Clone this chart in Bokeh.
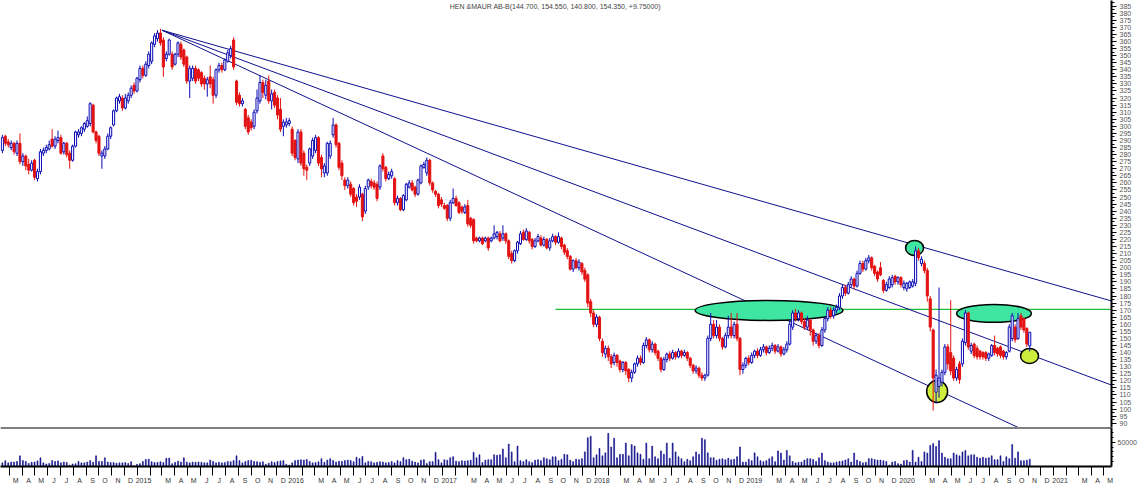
import datetime as dt
from bokeh.plotting import figure
from bokeh.models import Range1d, FixedTicker, Span, Label, ColumnDataSource
from bokeh.layouts import column
from bokeh.embed import file_html
from bokeh.resources import INLINE

# ---------------- data (weekly candles) ----------------
TITLE = "HEN &MAUR AB-B(144.700, 154.550, 140.800, 154.350, +9.75000)"
FIRST_WEEK = "2014-02-10"

OPEN = [
    283, 293, 289, 285, 288, 281, 288, 275, 279, 273, 269, 276, 263, 268, 281, 283, 284, 291, 286, 290,
    292, 282, 288, 281, 276, 286, 294, 295, 298, 300, 302, 315, 296, 293, 279, 279, 284, 293, 301, 311,
    318, 320, 313, 318, 322, 329, 325, 333, 341, 336, 343, 346, 358, 362, 366, 361, 348, 351, 351, 344,
    351, 358, 354, 349, 332, 334, 341, 340, 338, 334, 330, 335, 333, 322, 340, 343, 340, 346, 350, 361,
    332, 322, 316, 312, 306, 303, 300, 311, 318, 331, 322, 332, 318, 324, 320, 312, 300, 301, 302, 298,
    290, 277, 296, 281, 271, 274, 279, 283, 292, 278, 267, 267, 279, 294, 301, 288, 274, 262, 258, 259,
    256, 250, 250, 252, 240, 257, 261, 260, 259, 257, 279, 271, 263, 265, 263, 246, 249, 241, 248, 257,
    260, 257, 252, 260, 271, 267, 276, 260, 254, 252, 248, 244, 244, 235, 246, 249, 246, 243, 239, 244,
    235, 234, 221, 219, 221, 219, 221, 219, 221, 222, 224, 221, 224, 219, 210, 205, 212, 217, 225, 220,
    225, 220, 215, 219, 221, 216, 220, 214, 219, 222, 218, 221, 216, 212, 208, 199, 205, 200, 203, 198,
    195, 176, 168, 160, 165, 148, 139, 143, 137, 133, 138, 134, 128, 133, 128, 122, 126, 132, 136, 133,
    145, 149, 142, 146, 141, 136, 128, 135, 139, 136, 140, 137, 141, 138, 140, 136, 131, 127, 129, 124,
    122, 124, 150, 160, 152, 158, 150, 144, 152, 158, 152, 160, 150, 128, 131, 136, 133, 138, 141, 138,
    142, 144, 140, 143, 145, 141, 144, 139, 142, 146, 158, 168, 164, 168, 162, 158, 163, 156, 148, 152,
    145, 156, 164, 170, 166, 170, 172, 180, 186, 182, 188, 192, 187, 196, 203, 199, 205, 207, 201, 197,
    200, 191, 184, 186, 188, 194, 190, 193, 186, 185, 186, 187, 189, 212, 203, 203, 198, 178, 156, 112,
    116, 119, 126, 144, 140, 136, 122, 132, 132, 147, 168, 141, 146, 143, 141, 140, 140, 136, 138, 145,
    143, 144, 141, 137, 141, 150, 158, 150, 166, 164, 157, 144.7,
]
HIGH = [
    294, 294, 291, 290, 289, 290, 295, 281, 280, 277, 276, 277, 270, 284, 285, 287, 290, 298, 293, 297,
    294, 289, 289, 283, 287, 297, 298, 300, 303, 307, 317, 316, 297, 294, 283, 286, 295, 300, 312, 321,
    323, 322, 323, 324, 329, 331, 335, 343, 343, 346, 353, 360, 366, 368, 369, 363, 353, 362, 353, 352,
    360, 360, 355, 350, 343, 343, 343, 341, 339, 336, 335, 343, 335, 341, 345, 345, 348, 354, 357, 363,
    333, 324, 320, 313, 308, 305, 312, 326, 336, 333, 333, 336, 326, 326, 322, 320, 305, 306, 306, 300,
    291, 298, 298, 283, 273, 285, 292, 294, 293, 280, 274, 289, 290, 306, 302, 289, 276, 264, 264, 261,
    257, 252, 259, 253, 258, 263, 263, 262, 261, 273, 281, 272, 268, 270, 264, 251, 250, 252, 260, 262,
    262, 258, 263, 273, 275, 278, 277, 261, 255, 253, 250, 246, 245, 248, 256, 251, 247, 244, 245, 248,
    236, 235, 222, 222, 222, 222, 222, 222, 230, 226, 226, 230, 225, 220, 212, 213, 219, 226, 227, 228,
    226, 221, 221, 224, 223, 222, 221, 221, 224, 223, 225, 222, 217, 214, 209, 206, 207, 206, 204, 200,
    196, 178, 170, 167, 166, 150, 145, 145, 139, 140, 139, 135, 134, 134, 129, 128, 133, 138, 138, 147,
    151, 150, 148, 147, 142, 137, 137, 140, 141, 142, 141, 143, 142, 142, 141, 137, 132, 131, 130, 126,
    125, 152, 168, 163, 163, 160, 151, 154, 166, 168, 162, 168, 151, 133, 137, 138, 140, 142, 143, 144,
    146, 145, 145, 147, 146, 146, 145, 144, 148, 162, 170, 171, 170, 169, 164, 166, 164, 157, 154, 154,
    158, 165, 172, 172, 172, 174, 182, 188, 188, 190, 194, 193, 198, 205, 205, 207, 209, 208, 202, 198,
    204, 192, 190, 194, 195, 195, 194, 194, 191, 190, 191, 192, 215, 214, 208, 205, 200, 180, 157, 128,
    186, 128, 146, 146, 177, 138, 130, 134, 150, 170, 169, 147, 147, 145, 142, 141, 141, 140, 146, 152,
    144, 145, 142, 141, 160, 168, 160, 168, 168, 165, 158, 154.55,
]
LOW = [
    281, 286, 285, 283, 280, 279, 273, 272, 269, 266, 268, 262, 261, 266, 279, 281, 283, 285, 284, 288,
    280, 280, 278, 270, 275, 285, 292, 293, 296, 299, 300, 295, 288, 279, 270, 277, 283, 291, 300, 310,
    316, 311, 312, 316, 320, 323, 324, 331, 334, 335, 341, 344, 356, 360, 357, 335, 346, 350, 340, 343,
    349, 347, 342, 330, 320, 332, 330, 332, 328, 326, 321, 327, 316, 320, 338, 338, 339, 345, 348, 340,
    315, 314, 314, 298, 294, 297, 298, 309, 316, 320, 319, 316, 312, 313, 305, 296, 293, 299, 300, 279,
    276, 274, 272, 265, 262, 272, 277, 281, 272, 264, 264, 265, 277, 292, 285, 269, 262, 255, 256, 250,
    244, 243, 248, 233, 238, 255, 256, 255, 247, 255, 268, 261, 262, 263, 244, 244, 240, 240, 247, 256,
    254, 250, 251, 259, 270, 265, 258, 253, 250, 242, 243, 241, 233, 233, 245, 243, 238, 238, 238, 229,
    228, 217, 218, 218, 216, 218, 212, 218, 220, 220, 218, 219, 217, 206, 203, 204, 210, 216, 219, 219,
    217, 213, 214, 218, 215, 215, 213, 212, 218, 216, 217, 213, 209, 206, 198, 197, 199, 198, 195, 190,
    172, 165, 158, 158, 148, 137, 136, 134, 129, 131, 130, 126, 126, 124, 119, 119, 125, 130, 131, 132,
    143, 140, 140, 138, 134, 126, 127, 133, 134, 135, 135, 136, 136, 137, 134, 129, 125, 125, 122, 120,
    120, 123, 148, 150, 150, 148, 142, 143, 150, 150, 150, 148, 124, 125, 129, 131, 132, 136, 136, 137,
    140, 138, 139, 141, 139, 140, 137, 138, 140, 145, 156, 162, 162, 160, 156, 156, 152, 145, 146, 143,
    144, 154, 162, 164, 164, 168, 170, 178, 180, 181, 186, 185, 186, 195, 197, 198, 203, 198, 194, 190,
    194, 182, 183, 185, 186, 188, 188, 186, 184, 183, 185, 186, 187, 205, 201, 196, 176, 155, 99, 104,
    108, 116, 124, 128, 124, 120, 120, 118, 130, 145, 142, 139, 136, 135, 135, 135, 134, 134, 137, 138,
    137, 136, 135, 135, 140, 148, 147, 149, 156, 154, 144, 140.8,
]
CLOSE = [
    292, 288, 287, 288, 282, 288, 275, 279, 272, 269, 274, 264, 268, 282, 283, 285, 287, 286, 291, 292,
    281, 288, 280, 276, 286, 296, 296, 299, 302, 304, 316, 296, 290, 281, 281, 284, 293, 299, 311, 320,
    321, 313, 320, 322, 327, 325, 334, 341, 336, 344, 351, 359, 364, 366, 359, 342, 351, 361, 342, 351,
    359, 349, 344, 332, 341, 341, 332, 334, 330, 330, 333, 330, 322, 340, 343, 340, 347, 352, 355, 342,
    317, 316, 318, 300, 296, 299, 310, 320, 331, 324, 329, 318, 323, 315, 308, 298, 303, 303, 304, 281,
    278, 296, 274, 270, 269, 284, 290, 292, 274, 270, 272, 288, 288, 301, 287, 271, 265, 258, 262, 252,
    246, 247, 257, 236, 256, 262, 258, 257, 249, 272, 270, 263, 266, 268, 246, 249, 241, 251, 259, 260,
    255, 252, 262, 272, 273, 276, 260, 255, 252, 244, 245, 242, 235, 246, 249, 244, 239, 240, 243, 231,
    230, 219, 219, 221, 217, 221, 214, 221, 224, 225, 219, 224, 219, 208, 205, 212, 218, 224, 220, 226,
    219, 215, 219, 222, 216, 220, 214, 219, 222, 218, 222, 215, 211, 208, 199, 205, 200, 204, 197, 192,
    175, 168, 160, 165, 150, 140, 143, 137, 132, 138, 133, 128, 133, 127, 122, 126, 132, 136, 133, 145,
    149, 142, 146, 140, 136, 128, 135, 139, 136, 140, 137, 141, 138, 140, 136, 131, 127, 129, 124, 122,
    124, 150, 160, 152, 158, 150, 144, 152, 158, 152, 160, 150, 128, 131, 136, 133, 138, 141, 138, 142,
    144, 140, 143, 145, 141, 144, 139, 142, 146, 160, 168, 164, 168, 162, 158, 163, 156, 148, 152, 145,
    156, 164, 170, 166, 170, 172, 180, 186, 182, 188, 192, 187, 196, 203, 199, 205, 207, 200, 196, 192,
    195, 184, 188, 192, 193, 190, 193, 188, 189, 189, 190, 190, 212, 207, 206, 198, 180, 158, 122, 124,
    122, 126, 144, 132, 127, 122, 128, 121, 148, 168, 144, 145, 138, 137, 137, 137, 136, 139, 145, 140,
    139, 138, 137, 140, 158, 166, 149, 164, 158, 156, 146, 154.35,
]
VOLUME = [
    7500, 12000, 7500, 9200, 9200, 10400, 21900, 12100, 10400, 6300, 8600, 9200, 11500, 17800, 7500, 5200, 6300, 12100, 10400, 11500,
    7500, 9200, 8100, 2900, 5200, 5800, 10400, 7500, 7500, 9200, 12100, 8600, 21900, 10400, 10400, 17800, 9200, 8100, 8100, 6900,
    7500, 7500, 8100, 6300, 9800, 1700, 4600, 5800, 10400, 14400, 15000, 9800, 8100, 8600, 9800, 8100, 16700, 17300, 5800, 8600,
    10900, 9200, 17800, 9200, 7500, 9200, 8600, 9200, 8600, 7500, 7500, 13200, 10400, 7500, 8600, 7500, 8100, 10400, 9800, 12100,
    21900, 12100, 7500, 10400, 12100, 12700, 10400, 9800, 8600, 9800, 4600, 6900, 9800, 8100, 10400, 11500, 12100, 4600, 3000, 7500,
    12100, 13200, 13800, 13200, 14400, 10400, 7500, 8100, 9800, 16100, 8600, 13200, 16100, 12100, 9200, 10900, 10400, 12100, 13200, 12100,
    9800, 19000, 16100, 20700, 7500, 10400, 9800, 7500, 8600, 9800, 9200, 7500, 8100, 10400, 7500, 12100, 10000, 18000, 14000, 15000,
    11000, 9000, 7500, 13000, 14000, 6000, 10000, 10000, 29000, 14000, 7500, 14000, 13000, 18000, 20000, 11000, 10000, 12000, 11000, 12000,
    13000, 29000, 18000, 24000, 8000, 13000, 14000, 14000, 24000, 23000, 24000, 36000, 18000, 46000, 30000, 10000, 42000, 12000, 10000, 14000,
    10000, 8000, 13000, 14000, 12000, 18000, 16000, 14000, 20000, 20000, 12000, 15000, 25000, 24000, 13000, 10000, 15000, 14000, 16000, 30000,
    59000, 62000, 18000, 24000, 37000, 22000, 28000, 68000, 40000, 58000, 18000, 25000, 25000, 48000, 22000, 45000, 42000, 28000, 25000, 15000,
    48000, 16000, 42000, 20000, 16000, 32000, 25000, 48000, 17000, 48000, 30000, 20000, 16000, 10000, 15000, 12000, 20000, 30000, 25000, 58000,
    55000, 28000, 18000, 18000, 13000, 15000, 16000, 14000, 17000, 14000, 15000, 20000, 40000, 9000, 9000, 15000, 12000, 28000, 20000, 12000,
    10000, 12000, 16000, 20000, 10000, 32000, 27600, 13200, 33000, 21800, 10300, 7500, 8600, 9200, 13200, 16000, 16000, 14400, 10300, 17800,
    27600, 12000, 9200, 7500, 7500, 9200, 10300, 11500, 13200, 16000, 9200, 27600, 13200, 10300, 7500, 8600, 16000, 16000, 14400, 13200,
    13200, 12000, 10300, 3000, 9200, 10300, 5800, 5000, 12000, 13000, 9200, 33000, 9200, 19000, 10300, 30000, 27600, 43000, 47000, 41000,
    53000, 27600, 19000, 16000, 16000, 27600, 24000, 21800, 30000, 33000, 21800, 24000, 24000, 19000, 17000, 19000, 17000, 18000, 22000, 14000,
    14000, 21800, 10300, 20000, 16000, 45000, 17000, 30000, 12000, 12000, 13000, 15000,
]

MONTH_LETTERS = ["", "", "M", "A", "M", "J", "J", "A", "S", "O", "N", "D"]  # January shows the year
PRICE_TICKS = list(range(90, 390, 5))
VOLUME_TICKS = [50000]

# annotations drawn by the analyst (date, price)
RESISTANCE_PRICE = 170.5
RESISTANCE_START = "2017-09-27"
TREND_LINES = [
    (("2015-03-01", 368.0), ("2021-05-19", 176.5)),
    (("2015-03-01", 368.0), ("2021-05-19", 117.0)),
    (("2015-03-01", 368.0), ("2020-10-08", 87.0)),
]
# centre date, centre price, width (days), height (price), fill
ELLIPSES = [
    ("2019-02-20", 169.8, 353, 14.1, "#3ee6a2"),
    ("2020-02-03", 214.0, 43, 10.6, "#3ee6a2"),
    ("2020-08-11", 167.7, 179, 12.7, "#3ee6a2"),
    ("2020-03-28", 112.5, 50, 15.6, "#cdee3c"),
    ("2020-11-04", 137.6, 43, 10.6, "#cdee3c"),
]

X_START, X_END = "2014-02-08", "2021-05-19"
PRICE_RANGE = (87, 389)
VOLUME_RANGE = (0, 80000)

# ---------------- helpers ----------------
BASE = dt.date(2014, 1, 1)


def day(s):
    return (dt.date.fromisoformat(s) - BASE).days


BLUE = "#0a0ab4"
RED = "#e31212"
NAVY = "#10108c"
GREEN = "#1fbf3a"
FONT = "Liberation Sans"

n = len(CLOSE)
first = day(FIRST_WEEK)
xs = [first + 7 * i + 2.5 for i in range(n)]
up = [c >= o for o, c in zip(OPEN, CLOSE)]
src = ColumnDataSource(dict(
    x=xs,
    top=[max(o, c) for o, c in zip(OPEN, CLOSE)],
    bottom=[min(o, c) for o, c in zip(OPEN, CLOSE)],
    high=HIGH, low=LOW,
    line=[BLUE if u else RED for u in up],
    fill=["white" if u else RED for u in up],
    vol=VOLUME,
))

x_range = Range1d(day(X_START), day(X_END))

W = 1139
RB = 28
p = figure(width=W, height=427, x_range=x_range, y_range=Range1d(*PRICE_RANGE),
           y_axis_location="right", x_axis_location=None,
           toolbar_location=None, output_backend="svg",
           min_border_left=0, min_border_top=0, min_border_bottom=0, min_border_right=RB)
p.grid.visible = False
p.outline_line_color = None

ya = p.yaxis[0]
ya.ticker = FixedTicker(ticks=PRICE_TICKS, minor_ticks=[t + 2.5 for t in PRICE_TICKS])
ya.major_label_text_font = FONT
ya.major_label_text_font_size = "7px"
ya.major_label_text_color = "#555555"
ya.major_tick_out = 5
ya.major_tick_in = 0
ya.minor_tick_out = 3
ya.minor_tick_in = 0
ya.major_label_standoff = 3
ya.axis_line_width = 2

# resistance line
p.segment(x0=[day(RESISTANCE_START)], y0=[RESISTANCE_PRICE], x1=[day(X_END) + 30],
          y1=[RESISTANCE_PRICE], line_color=GREEN, line_width=1.3)
# trend lines
for (d0, p0), (d1, p1) in TREND_LINES:
    p.segment(x0=[day(d0)], y0=[p0], x1=[day(d1)], y1=[p1], line_color=NAVY, line_width=1)
# ellipses
p.ellipse(x=[day(e[0]) for e in ELLIPSES], y=[e[1] for e in ELLIPSES],
          width=[e[2] for e in ELLIPSES], height=[e[3] for e in ELLIPSES],
          fill_color=[e[4] for e in ELLIPSES], line_color="black", line_width=1.5)
# candles
p.segment(x0="x", y0="low", x1="x", y1="high", line_color="line", line_width=1, source=src)
p.vbar(x="x", width=5, top="top", bottom="bottom", fill_color="fill", line_color="line",
       line_width=1, source=src)

p.add_layout(Label(x=day("2017-09-27"), y=421, y_units="screen", text=TITLE,
                   text_font=FONT, text_font_size="7px", text_color="#444444",
                   text_align="center", text_baseline="middle"))

# ---------------- volume panel ----------------
v = figure(width=W, height=59, x_range=x_range, y_range=Range1d(*VOLUME_RANGE),
           y_axis_location="right", toolbar_location=None, output_backend="svg",
           min_border_left=0, min_border_top=0, min_border_bottom=0, min_border_right=RB)
v.grid.visible = False
v.outline_line_color = None
v.vbar(x="x", width=2.2, top="vol", bottom=0, fill_color=NAVY, line_color=NAVY,
       line_width=0.6, source=src)
v.add_layout(Span(location=VOLUME_RANGE[1], dimension="width", line_color="black", line_width=2))

vy = v.yaxis[0]
vy.ticker = FixedTicker(ticks=VOLUME_TICKS, minor_ticks=list(range(10000, 80000, 10000)))
vy.major_label_text_font = FONT
vy.major_label_text_font_size = "7px"
vy.major_label_text_color = "#555555"
vy.major_tick_out = 4
vy.major_tick_in = 0
vy.minor_tick_out = 2
vy.minor_tick_in = 0
vy.major_label_standoff = 2
vy.axis_line_width = 2

# month ticks
starts, mids, labels = [], [], {}
y, m = 2014, 2
while (y, m) <= (2021, 6):
    d0 = dt.date(y, m, 1)
    ny, nm = (y + 1, 1) if m == 12 else (y, m + 1)
    d1 = dt.date(ny, nm, 1)
    s, e = (d0 - BASE).days, (d1 - BASE).days
    mid = (s + e) // 2
    starts.append(s)
    mids.append(mid)
    labels[mid] = str(y) if m == 1 else MONTH_LETTERS[m - 1]
    y, m = ny, nm

xa = v.xaxis[0]
xa.ticker = FixedTicker(ticks=mids, minor_ticks=starts)
xa.major_label_overrides = labels
xa.major_tick_out = 0
xa.major_tick_in = 0
xa.minor_tick_out = 9
xa.minor_tick_in = 0
xa.major_label_standoff = 1
xa.major_label_text_font = FONT
xa.major_label_text_font_size = "7px"
xa.major_label_text_color = "#333333"
xa.axis_line_width = 2

layout = column(p, v)
open("out.html", "w").write(file_html(layout, INLINE, title="H&M"))
